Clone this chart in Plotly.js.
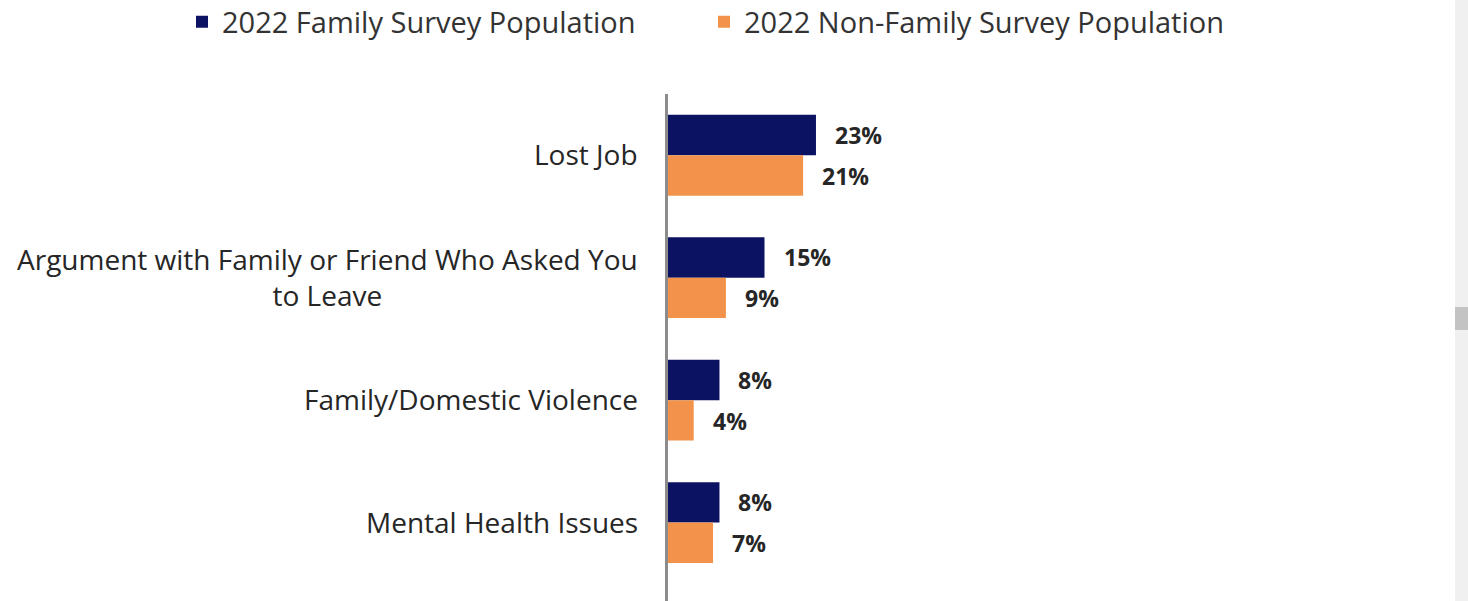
<!DOCTYPE html>
<html>
<head>
<meta charset="utf-8">
<script src="https://cdn.plot.ly/plotly-3.0.1.min.js"></script>
<style>
  html, body { margin: 0; padding: 0; background: #ffffff; overflow: hidden; }
  #chart { width: 1468px; height: 601px; }
  #sb { position: absolute; left: 1455px; top: 0; width: 13px; height: 601px; background: #f0f0f0; }
  #sbthumb { position: absolute; left: 1455px; top: 307px; width: 13px; height: 23px; background: #c3c3c3; }
</style>
</head>
<body>
<div id="chart"></div>
<div id="sb"></div>
<div id="sbthumb"></div>
<script>
const categories = [
  "Lost Job",
  "Argument with Family or Friend Who Asked You<br>to Leave",
  "Family/Domestic Violence",
  "Mental Health Issues"
];
const seriesNames = ["2022 Family Survey Population", "2022 Non-Family Survey Population"];
const familyValues = [23, 15, 8, 8];
const nonFamilyValues = [21, 9, 4, 7];
const colors = ["#0c1262", "#f2924b"];

const catKeys = categories.map((c, i) => "c" + i);

const traces = [
  { type: "bar", orientation: "h", name: seriesNames[0], y: catKeys, x: familyValues,
    marker: { color: colors[0] }, hoverinfo: "skip", legend: "legend" },
  { type: "bar", orientation: "h", name: seriesNames[1], y: catKeys, x: nonFamilyValues,
    marker: { color: colors[1] }, hoverinfo: "skip", legend: "legend2" }
];

const FAM = "'Open Sans', Lato, sans-serif";
const labelFont = { family: FAM, size: 28, color: "#262626" };
const valueFont = { family: FAM, size: 23, color: "#262626", weight: 700 };
const legendFont = { family: FAM, size: 29, color: "#333333" };

const annotations = [];
categories.forEach((c, i) => {
  annotations.push({ xref: "paper", yref: "y", x: 0, y: catKeys[i], text: c,
    xanchor: "right", yanchor: "middle", align: "center", xshift: -28, yshift: 1,
    showarrow: false, font: labelFont });
});
[familyValues, nonFamilyValues].forEach((vals, s) => {
  vals.forEach((v, i) => {
    annotations.push({ xref: "x", yref: "y", x: v, y: catKeys[i], text: "<b>" + v + "%</b>",
      xanchor: "left", yanchor: "middle", xshift: 17, yshift: s === 0 ? 20.5 : -20.5,
      showarrow: false, font: valueFont });
  });
});

const legendBase = { orientation: "h", xref: "container", yref: "container", y: 1 - 22 / 601,
  xanchor: "left", yanchor: "middle", font: legendFont, bgcolor: "rgba(0,0,0,0)" };

const layout = {
  width: 1468, height: 601,
  margin: { l: 668, r: 28, t: 94, b: 0 },
  paper_bgcolor: "#ffffff", plot_bgcolor: "#ffffff",
  barmode: "group", bargap: 0.34, bargroupgap: 0,
  showlegend: true,
  legend: Object.assign({}, legendBase, { x: 182 / 1468 }),
  legend2: Object.assign({}, legendBase, { x: 704 / 1468 }),
  xaxis: { range: [0, 120], showgrid: false, zeroline: false, showticklabels: false,
    showline: false, ticks: "", fixedrange: true },
  yaxis: { type: "category", range: [3.64, -0.5], showgrid: false, zeroline: false,
    showticklabels: false, ticks: "", showline: true, linecolor: "#8c8c8c", linewidth: 3,
    fixedrange: true },
  annotations: annotations
};

Plotly.newPlot("chart", traces, layout, { displayModeBar: false, staticPlot: true });
</script>
</body>
</html>
